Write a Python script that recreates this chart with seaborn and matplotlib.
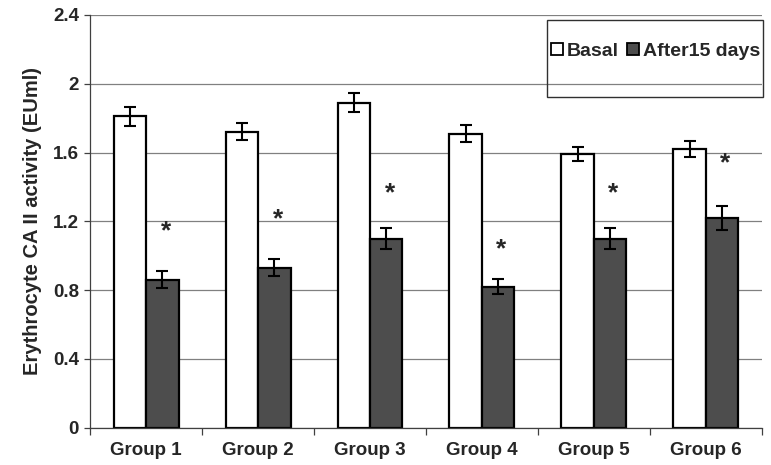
import matplotlib
matplotlib.use('Agg')
import matplotlib.pyplot as plt
from matplotlib.patches import Patch, Rectangle
import numpy as np
import pandas as pd
import seaborn as sns

groups = ['Group 1', 'Group 2', 'Group 3', 'Group 4', 'Group 5', 'Group 6']
series = ['Basal', 'After15 days']
basal = [1.81, 1.72, 1.89, 1.71, 1.59, 1.62]
basal_err = [0.055, 0.05, 0.055, 0.05, 0.04, 0.045]
after = [0.86, 0.93, 1.10, 0.82, 1.10, 1.22]
after_err = [0.05, 0.05, 0.06, 0.045, 0.06, 0.07]
star_y = [1.14, 1.21, 1.36, 1.04, 1.36, 1.54]
y_ticks = [0, 0.4, 0.8, 1.2, 1.6, 2.0, 2.4]
y_tick_labels = ['0', '0.4', '0.8', '1.2', '1.6', '2', '2.4']

df = pd.DataFrame({
    'group': groups * 2,
    'series': [series[0]] * len(groups) + [series[1]] * len(groups),
    'value': basal + after,
})

sns.set_style('white')
plt.rcParams['font.family'] = ['Liberation Sans', 'DejaVu Sans']
plt.rcParams['font.weight'] = 'bold'

fig = plt.figure(figsize=(7.71, 4.65), dpi=100)
ax = fig.add_axes([0.117, 0.080, 0.871, 0.888])

colors = {'Basal': 'white', 'After15 days': '#4d4d4d'}
sns.barplot(data=df, x='group', y='value', hue='series', hue_order=series,
            palette=colors, order=groups, width=0.58, edgecolor='black',
            linewidth=1.6, errorbar=None, legend=False, ax=ax)

# error bars at bar centres
for cont, errs in zip(ax.containers, [basal_err, after_err]):
    xs = [p.get_x() + p.get_width() / 2 for p in cont]
    ys = [p.get_height() for p in cont]
    ax.errorbar(xs, ys, yerr=errs, fmt='none', ecolor='black',
                elinewidth=1.5, capsize=4.5, capthick=1.5, zorder=5)

# significance stars over the after bars
for p, sy in zip(ax.containers[1], star_y):
    ax.text(p.get_x() + p.get_width() / 2 + 0.03, sy, '*', ha='center',
            va='center', fontsize=19, fontweight='bold')

ax.set_ylim(0, 2.4)
ax.set_xlim(-0.5, len(groups) - 0.5)
ax.set_yticks(y_ticks)
ax.set_yticklabels(y_tick_labels)
ax.yaxis.grid(True, color='#808080', linewidth=0.9)
ax.set_axisbelow(True)
ax.tick_params(axis='y', left=True, length=4, width=0.9, color='#404040',
               labelsize=13.5, pad=4)
ax.tick_params(axis='x', bottom=False, labelsize=13.5, pad=7)
ax.set_xticks(np.arange(-0.5, len(groups), 1.0), minor=True)
ax.tick_params(axis='x', which='minor', bottom=True, length=5, width=0.9,
               color='#404040')
for s in ['top', 'right']:
    ax.spines[s].set_visible(False)
for s in ['left', 'bottom']:
    ax.spines[s].set_color('#404040')
    ax.spines[s].set_linewidth(0.9)

ax.set_xlabel('')
ax.set_ylabel('Erythrocyte CA II activity (EUml)', fontsize=14.5,
              fontweight='bold', labelpad=8)

# legend box
ax.add_patch(Rectangle((0.680, 0.801), 0.322, 0.187, transform=ax.transAxes,
                       fill=False, edgecolor='#303030', linewidth=1.0,
                       clip_on=False, zorder=6))
handles = [Patch(facecolor=colors[s], edgecolor='black', linewidth=1.3, label=s)
           for s in series]
ax.legend(handles=handles, loc='center', bbox_to_anchor=(0.842, 0.912),
          ncol=2, frameon=False, fontsize=14, handlelength=0.6,
          handleheight=0.6, handletextpad=0.2, columnspacing=0.45,
          borderpad=0)

fig.savefig('out.png', dpi=100)
